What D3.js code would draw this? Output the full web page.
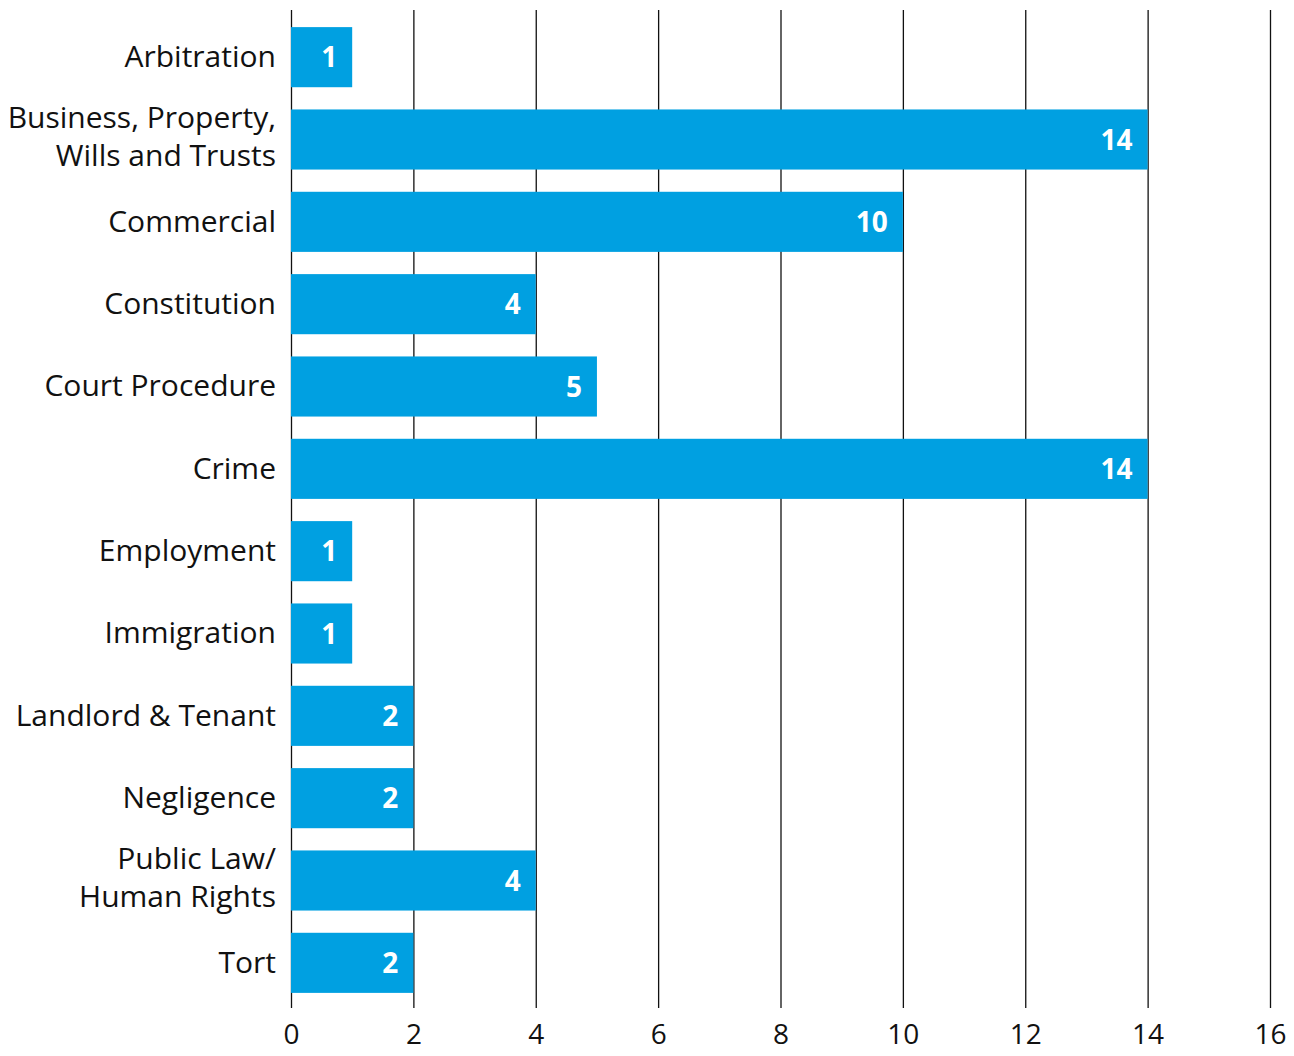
<!DOCTYPE html>
<html>
<head>
<meta charset="utf-8">
<script src="https://cdn.jsdelivr.net/npm/d3@7"></script>
<style>
  body { margin: 0; background: #fff; }
  text { font-family: "Open Sans", "Noto Sans", sans-serif; }
</style>
</head>
<body>
<div id="chart"></div>
<script>
// Data
var categories = ["Arbitration", "Business, Property,|Wills and Trusts", "Commercial", "Constitution",
  "Court Procedure", "Crime", "Employment", "Immigration", "Landlord & Tenant", "Negligence",
  "Public Law/|Human Rights", "Tort"];
var counts = [1, 14, 10, 4, 5, 14, 1, 1, 2, 2, 4, 2];
var xTicks = [0, 2, 4, 6, 8, 10, 12, 14, 16];

var margin = {top: 16, right: 24, bottom: 51, left: 291},
    width = 1294 - margin.left - margin.right,
    height = 1056 - margin.top - margin.bottom;

var x = d3.scaleLinear()
    .domain([0, 16])
    .range([0, 979]);

var y = d3.scaleBand()
    .domain(categories)
    .range([0, height - 1])
    .paddingInner(0.27)
    .paddingOuter(0.135);

var svg = d3.select("#chart")
  .append("svg")
    .attr("width", 1294)
    .attr("height", 1056)
  .append("g")
    .attr("transform", `translate(${margin.left},${margin.top})`);

// gridlines
svg.append("g")
  .selectAll("line")
  .data(xTicks)
  .enter().append("line")
    .attr("x1", function(d) { return x(d) + 0.5; })
    .attr("x2", function(d) { return x(d) + 0.5; })
    .attr("y1", -6)
    .attr("y2", height + 3)
    .attr("stroke", "#111")
    .attr("stroke-width", 1.3);

// bars
svg.append("g")
  .selectAll("rect")
  .data(categories)
  .enter().append("rect")
    .attr("x", x(0))
    .attr("y", function(d) { return y(d); })
    .attr("width", function(d, i) { return x(counts[i]) - x(0); })
    .attr("height", y.bandwidth())
    .attr("fill", "#00a0e1");

// values inside bars
svg.append("g")
  .selectAll("text")
  .data(categories)
  .enter().append("text")
    .attr("x", function(d, i) { return x(counts[i]) - 15; })
    .attr("y", function(d) { return y(d) + y.bandwidth() / 2; })
    .attr("dy", "0.36em")
    .attr("text-anchor", "end")
    .attr("fill", "#fff")
    .attr("font-weight", "bold")
    .style("font-size", "28px")
    .text(function(d, i) { return counts[i]; });

// category labels
var labels = svg.append("g")
  .selectAll("text")
  .data(categories)
  .enter().append("text")
    .attr("x", -15)
    .attr("y", function(d) { return y(d) + y.bandwidth() / 2 - 1; })
    .attr("text-anchor", "end")
    .attr("fill", "#111")
    .style("font-size", "30px");

labels.each(function(d) {
  var lines = d.split("|");
  var t = d3.select(this);
  lines.forEach(function(line, j) {
    t.append("tspan")
      .attr("x", -15)
      .attr("dy", j === 0 ? (0.36 - (lines.length - 1) * 0.7) + "em" : "1.27em")
      .text(line);
  });
});

// x axis tick labels
svg.append("g")
  .attr("transform", `translate(0,${height})`)
  .call(d3.axisBottom(x).tickValues(xTicks).tickSize(0).tickPadding(19))
  .call(function(g) { g.select(".domain").remove(); })
  .selectAll("text")
    .attr("fill", "#111")
    .style("font-family", "'Open Sans', 'Noto Sans', sans-serif")
    .style("font-size", "28px");
</script>
</body>
</html>
